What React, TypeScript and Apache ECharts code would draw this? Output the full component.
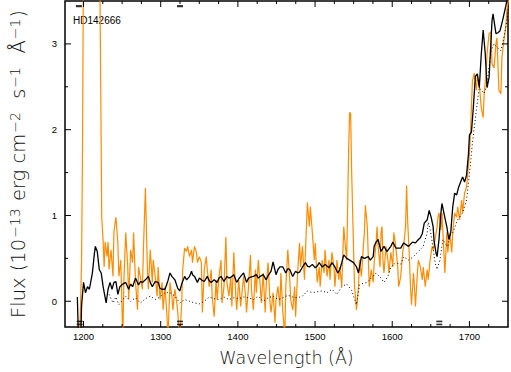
import React, { useEffect, useRef } from 'react';
import * as echarts from 'echarts';

// Observed (orange) spectrum: [wavelength Å, flux 1e-13]
const orangeSpectrum: [number, number][] = [
  [1194.9, -0.5], [1197.5, 0.48], [1198.7, 1.8], [1200.5, 5], [1205, 9], [1210, 12], [1215, 14], [1219, 9], [1221.0, 4],
  [1223.6, 0.98], [1225.4, 0.7], [1226.7, 0.4], [1228.0, 0.69], [1230.5, 0.52], [1231.8, 0.69], [1233.1, 0.37], [1235.6, 0.6],
  [1238.2, 0.29], [1239.4, 0.81], [1242.0, 0.98], [1244.5, 0.68], [1245.8, 0.29], [1248.3, 0.48], [1250.9, -0.45], [1252.2, 0.22],
  [1254.7, 0.8], [1257.3, 0.4], [1258.5, 0.02], [1261.1, 0.6], [1263.6, 0.45], [1264.9, 0.8], [1267.4, 0.22], [1270.0, -0.1],
  [1271.3, 0.4], [1276.3, 0.14], [1277.6, 0.6], [1280.2, 1.32], [1282.7, 0.4], [1284.0, 0.14], [1286.5, 0.6], [1289.1, 0.22],
  [1290.3, 0.48], [1292.9, 0.29], [1295.4, 0.06], [1296.7, 0.4], [1299.2, 0.02], [1301.8, 0.22], [1303.1, -0.1], [1305.6, 0.17],
  [1308.2, -0.18], [1309.4, -0.45], [1312.0, 0.22], [1314.5, 0.06], [1315.8, -0.1], [1318.4, 0.14], [1320.9, -0.02], [1322.1, -0.13],
  [1324.7, -0.45], [1327.2, -0.02], [1328.5, 0.37], [1331.0, 0.62], [1333.6, 0.58], [1334.9, 0.64], [1337.4, 0.52], [1340.0, 0.6],
  [1341.2, 0.45], [1343.8, 0.64], [1346.3, 0.57], [1347.6, 0.45], [1350.1, 0.52], [1352.7, 0.45], [1354.0, -0.13], [1356.5, 0.37],
  [1359.1, 0.52], [1360.3, 0.37], [1362.9, 0.17], [1365.4, 0.37], [1366.7, 0.06], [1369.3, -0.18], [1371.8, 0.25], [1373.1, 0.02],
  [1375.6, 0.29], [1378.2, 0.48], [1379.4, -0.02], [1382.0, 0.17], [1384.5, 0.75], [1385.8, 0.22], [1388.4, 0.06], [1390.9, 0.29],
  [1392.2, -0.06], [1394.7, 0.57], [1397.3, 0.06], [1398.5, -0.1], [1401.1, 0.25], [1403.6, -0.06], [1404.9, 0.06], [1407.4, 0.29],
  [1410.0, 0.06], [1411.2, -0.13], [1413.8, 0.17], [1416.3, 0.54], [1417.6, 0.14], [1420.1, -0.1], [1422.7, 0.37], [1423.9, 0.1],
  [1426.5, 0.48], [1429.0, 0.17], [1430.3, -0.02], [1432.8, 0.33], [1435.4, -0.13], [1436.6, 0.17], [1439.2, 0.45], [1441.7, -0.02],
  [1443.0, -0.13], [1445.6, 0.1], [1448.1, -0.25], [1449.4, 0.02], [1451.9, 0.17], [1454.5, -0.06], [1455.7, 0.33], [1458.3, -0.13],
  [1460.8, -0.4], [1462.1, 0.17], [1464.7, 0.6], [1467.2, 0.25], [1468.5, 0.02], [1471.0, -0.1], [1473.6, 0.17], [1474.8, -0.18],
  [1477.4, 0.33], [1479.9, 0.68], [1481.2, 0.4], [1483.7, 0.64], [1486.3, 0.25], [1487.5, 0.57], [1490.1, 1.15], [1492.6, 0.87],
  [1493.9, 1.1], [1496.5, 0.8], [1499.0, 0.48], [1500.3, 0.68], [1502.8, 0.22], [1505.4, 0.4], [1506.6, 0.17], [1509.2, 0.48],
  [1511.7, 0.33], [1513.0, 0.6], [1515.5, 0.29], [1518.1, 0.48], [1519.4, 0.25], [1521.9, 0.57], [1524.5, 0.4], [1525.7, 0.17],
  [1528.3, 0.48], [1530.8, 0.25], [1532.1, 0.4], [1534.6, 0.17], [1537.2, 0.87], [1538.5, 0.72], [1541.0, 0.48], [1543.5, 1.76],
  [1544.8, 2.2], [1546.1, 2.19], [1547.3, 1.56], [1549.9, 0.6], [1551.2, 0.17], [1553.7, -0.1], [1556.3, 0.17], [1557.5, 0.48],
  [1560.1, 0.29], [1562.6, 0.64], [1563.9, 0.8], [1565.2, 1.12], [1567.7, 0.87], [1569.0, 0.52], [1570.2, 0.17], [1572.8, 0.37],
  [1575.3, 0.22], [1576.6, 0.45], [1579.1, 0.68], [1580.4, 0.87], [1581.7, 0.64], [1584.2, 0.4], [1585.5, 0.8], [1586.8, 0.87],
  [1588.0, 0.48], [1589.3, 0.33], [1591.9, 0.64], [1594.4, 0.48], [1595.7, 0.33], [1598.2, 0.57], [1600.8, 0.4], [1602.0, 0.8],
  [1604.6, 0.64], [1607.1, 0.4], [1608.4, 0.17], [1611.0, 0.29], [1613.5, 0.57], [1614.8, 0.64], [1617.3, 0.87], [1618.6, 1.35],
  [1619.9, 0.95], [1622.4, 0.48], [1623.7, 0.17], [1625.0, -0.04], [1627.5, 0.33], [1628.8, 0.17], [1630.1, -0.06], [1632.6, 0.33],
  [1633.9, 0.48], [1636.4, 0.4], [1639.0, 0.25], [1640.2, 0.4], [1642.8, 0.17], [1645.3, 0.37], [1646.6, 0.25], [1649.1, 0.48],
  [1651.7, 0.64], [1653.0, 0.6], [1655.5, 0.72], [1658.1, 0.87], [1659.3, 0.98], [1660.6, 1.03], [1661.8, 0.95], [1663.1, 0.83],
  [1664.4, 1.03], [1665.7, 0.8], [1668.2, 0.33], [1670.7, 0.8], [1672.0, 0.57], [1674.6, 0.8], [1677.1, 0.57], [1678.4, 0.8],
  [1680.9, 1.03], [1683.5, 0.98], [1684.8, 1.1], [1687.3, 0.95], [1689.9, 1.18], [1691.2, 1.03], [1693.7, 1.26], [1696.3, 1.33],
  [1697.5, 1.45], [1700.1, 1.73], [1701.4, 1.96], [1702.6, 2.26], [1703.9, 2.57], [1706.4, 2.66], [1709.0, 2.46], [1710.3, 2.61],
  [1712.8, 2.53], [1715.3, 2.26], [1717.8, 2.14], [1719.1, 2.42], [1721.7, 2.66], [1722.9, 2.89], [1725.5, 3.12], [1728.0, 3.14],
  [1729.3, 2.77], [1731.9, 2.72], [1734.4, 3.0], [1735.7, 3.07], [1738.2, 2.46], [1740.8, 2.42], [1742.1, 2.84], [1744.6, 3.04],
  [1747.1, 3.19], [1748.5, 3.39], [1751.0, 3.55],
];

// Solid black spectrum
const blackSpectrum: [number, number][] = [
  [1192.0, 0.05], [1193.6, -0.5], [1196.2, -0.5], [1197.5, -0.05], [1200.0, 0.22], [1202.5, 0.1], [1205.1, 0.17], [1207.6, 0.14],
  [1211.5, 0.33], [1214.0, 0.55], [1215.3, 0.64], [1217.8, 0.58], [1220.4, 0.37], [1222.9, 0.33], [1225.4, 0.17], [1229.3, -0.02],
  [1231.8, 0.14], [1234.4, 0.22], [1236.9, 0.14], [1239.4, 0.22], [1242.0, 0.23], [1244.5, 0.08], [1247.1, 0.17], [1250.9, 0.2],
  [1254.7, 0.22], [1258.5, 0.14], [1261.1, 0.2], [1263.6, 0.17], [1267.4, 0.27], [1271.3, 0.19], [1273.8, 0.23], [1276.3, 0.22],
  [1280.2, 0.25], [1284.0, 0.29], [1286.5, 0.22], [1289.1, 0.17], [1292.9, 0.23], [1296.7, 0.22], [1299.2, 0.15], [1301.8, 0.14],
  [1305.6, 0.14], [1309.4, 0.24], [1312.0, 0.33], [1314.5, 0.29], [1318.4, 0.25], [1322.1, 0.15], [1324.7, 0.12], [1327.2, 0.2],
  [1331.0, 0.29], [1333.6, 0.25], [1337.4, 0.29], [1340.0, 0.35], [1341.2, 0.31], [1343.8, 0.29], [1347.6, 0.22], [1350.1, 0.27],
  [1352.7, 0.25], [1356.5, 0.23], [1360.3, 0.29], [1362.9, 0.24], [1365.4, 0.22], [1369.3, 0.25], [1373.1, 0.22], [1375.6, 0.27],
  [1378.2, 0.29], [1382.0, 0.23], [1385.8, 0.29], [1388.4, 0.27], [1390.9, 0.28], [1394.7, 0.31], [1398.5, 0.22], [1401.1, 0.26],
  [1403.6, 0.29], [1407.4, 0.33], [1411.2, 0.22], [1413.8, 0.27], [1416.3, 0.28], [1420.1, 0.29], [1423.9, 0.31], [1426.5, 0.27],
  [1429.0, 0.29], [1432.8, 0.31], [1436.6, 0.25], [1439.2, 0.3], [1443.0, 0.35], [1445.6, 0.46], [1449.4, 0.31], [1451.9, 0.37],
  [1454.5, 0.4], [1458.3, 0.4], [1462.1, 0.33], [1464.7, 0.38], [1467.2, 0.37], [1471.0, 0.29], [1474.8, 0.35], [1477.4, 0.33],
  [1479.9, 0.34], [1483.7, 0.4], [1487.5, 0.45], [1490.1, 0.41], [1492.6, 0.4], [1496.5, 0.43], [1500.3, 0.39], [1502.8, 0.41],
  [1505.4, 0.45], [1509.2, 0.4], [1513.0, 0.43], [1515.5, 0.41], [1518.1, 0.39], [1521.9, 0.45], [1525.7, 0.4], [1529.6, 0.33],
  [1532.1, 0.37], [1534.6, 0.45], [1537.2, 0.54], [1541.0, 0.5], [1544.8, 0.48], [1549.9, 0.45], [1553.7, 0.4], [1556.3, 0.33],
  [1560.1, 0.52], [1563.9, 0.5], [1569.0, 0.52], [1571.5, 0.48], [1575.3, 0.52], [1576.6, 0.64], [1579.1, 0.69], [1581.7, 0.72],
  [1585.5, 0.58], [1589.3, 0.64], [1593.1, 0.58], [1598.2, 0.64], [1600.8, 0.69], [1604.6, 0.62], [1611.0, 0.62], [1614.8, 0.68],
  [1621.1, 0.64], [1626.2, 0.69], [1630.1, 0.68], [1633.9, 0.72], [1636.4, 0.74], [1639.0, 0.79], [1641.5, 0.91], [1645.3, 0.95],
  [1647.9, 1.06], [1650.4, 0.98], [1653.0, 0.87], [1654.2, 0.7], [1656.8, 0.56], [1658.1, 0.52], [1660.6, 0.72], [1663.1, 1.03],
  [1664.4, 1.14], [1666.9, 1.03], [1670.7, 0.87], [1673.3, 0.72], [1675.8, 0.8], [1678.4, 1.1], [1680.9, 1.26], [1683.5, 1.24],
  [1686.0, 1.33], [1688.6, 1.39], [1691.2, 1.45], [1693.7, 1.39], [1696.3, 1.47], [1698.8, 1.72], [1700.1, 1.94], [1702.6, 1.97],
  [1705.1, 2.26], [1707.7, 2.62], [1710.3, 2.65], [1712.8, 2.49], [1715.3, 2.87], [1717.8, 3.16], [1720.4, 2.9], [1722.9, 2.49],
  [1725.5, 2.61], [1729.3, 3.27], [1730.6, 3.35], [1734.4, 3.12], [1736.9, 3.13], [1739.5, 3.15], [1742.1, 3.24], [1745.9, 3.39],
  [1748.5, 3.5], [1751.0, 3.62],
];

// Dotted black spectrum
const dottedSpectrum: [number, number][] = [
  [1233.1, 0.08], [1238.2, -0.02], [1242.0, 0.05], [1245.8, -0.04], [1250.9, 0.02], [1254.7, 0.06], [1261.1, 0.0], [1267.4, 0.04],
  [1273.8, -0.02], [1280.2, 0.03], [1286.5, 0.06], [1292.9, 0.02], [1299.2, 0.05], [1305.6, 0.1], [1312.0, 0.1], [1318.4, 0.06],
  [1324.7, -0.02], [1331.0, 0.02], [1337.4, 0.0], [1343.8, -0.02], [1350.1, -0.03], [1356.5, 0.0], [1362.9, 0.05], [1369.3, 0.03],
  [1375.6, 0.02], [1382.0, 0.05], [1388.4, 0.02], [1394.7, 0.04], [1401.1, 0.03], [1407.4, 0.05], [1413.8, 0.04], [1420.1, 0.02],
  [1426.5, 0.06], [1432.8, 0.0], [1439.2, 0.04], [1445.6, 0.06], [1451.9, 0.02], [1458.3, 0.04], [1464.7, 0.07], [1471.0, 0.05],
  [1477.4, 0.04], [1483.7, 0.06], [1490.1, 0.12], [1496.5, 0.1], [1502.8, 0.11], [1509.2, 0.12], [1515.5, 0.1], [1521.9, 0.14],
  [1528.3, 0.08], [1534.6, 0.17], [1541.0, 0.2], [1547.3, 0.13], [1553.7, -0.04], [1557.5, 0.19], [1562.6, 0.21], [1567.7, 0.22],
  [1572.8, 0.27], [1579.1, 0.33], [1585.5, 0.27], [1589.3, 0.22], [1594.4, 0.29], [1598.2, 0.4], [1604.6, 0.45], [1611.0, 0.43],
  [1614.8, 0.52], [1621.1, 0.48], [1627.5, 0.52], [1633.9, 0.58], [1640.2, 0.64], [1645.3, 0.8], [1646.6, 0.92], [1649.1, 0.84],
  [1653.0, 0.62], [1655.5, 0.45], [1658.1, 0.37], [1661.8, 0.48], [1665.7, 0.72], [1669.5, 0.66], [1672.0, 0.64], [1674.6, 0.76],
  [1678.4, 0.8], [1684.8, 0.95], [1691.2, 1.03], [1696.3, 1.18], [1700.1, 1.49], [1703.9, 1.84], [1709.0, 2.23], [1712.8, 2.49],
  [1719.1, 2.42], [1722.9, 2.54], [1728.0, 2.92], [1731.9, 3.0], [1735.7, 2.96], [1740.8, 2.92], [1744.6, 3.07], [1748.5, 3.27],
  [1751.0, 3.45],
];

const xMajorTicks = [1200, 1300, 1400, 1500, 1600, 1700];
const xMinorTicks = [1225, 1250, 1275, 1325, 1350, 1375, 1425, 1450, 1475, 1525, 1550, 1575, 1625, 1650, 1675, 1725];
const yMajorTicks = [0, 1, 2, 3];
const yMinorTicks = [0.5, 1.5, 2.5];
const topMarks = [1194, 1325];
const bottomMarks = [1195, 1325, 1661];
const starName = 'HD142666';

export default function App() {
  const ref = useRef<HTMLDivElement>(null);

  useEffect(() => {
    document.body.style.margin = '0';
    const chart = echarts.init(ref.current as HTMLDivElement, null, { renderer: 'svg' });

    const xTickData = [...xMajorTicks.map((v) => [v, 0, 1]), ...xMinorTicks.map((v) => [v, 0, 0])];
    const yTickData = [...yMajorTicks.map((v) => [1300, v, 1]), ...yMinorTicks.map((v) => [1300, v, 0])];

    const tickStyle = { stroke: '#000', lineWidth: 1 };
    const titleColor = '#111';

    const option: any = {
      animation: false,
      grid: {
        left: 58, right: 1, top: 1, bottom: 44,
        show: true, borderColor: '#000', borderWidth: 1.5, backgroundColor: 'transparent',
      },
      xAxis: {
        type: 'value', min: 1176, max: 1750,
        axisLine: { show: false }, axisTick: { show: false }, splitLine: { show: false },
        axisLabel: {
          formatter: (v: number) => (Math.abs(v % 100) < 1e-6 ? String(v) : ''),
          color: '#000', fontSize: 9.5, fontFamily: 'Liberation Sans', margin: 4,
        },
        name: 'Wavelength (\u00C5)', nameLocation: 'middle', nameGap: 22,
        nameTextStyle: { fontSize: 17.5, fontFamily: 'DejaVu Sans', fontWeight: 200, color: titleColor },
      },
      yAxis: {
        type: 'value', min: -0.3, max: 3.5,
        axisLine: { show: false }, axisTick: { show: false }, splitLine: { show: false },
        axisLabel: {
          formatter: (v: number) => (Math.abs(v - Math.round(v)) < 1e-6 ? String(Math.round(v)) : ''),
          color: '#000', fontSize: 9.5, fontFamily: 'Liberation Sans', margin: 8,
        },
        name: '{m|Flux (10}{s|\u221213}{m| erg cm}{s|\u22122}{m|  s}{s|\u22121}{m|  \u00C5}{s|\u22121}{m|)}',
        nameLocation: 'middle', nameRotate: 90, nameGap: 37,
        nameTextStyle: {
          rich: {
            m: { fontSize: 19.5, fontFamily: 'DejaVu Sans', fontWeight: 200, color: titleColor, lineHeight: 20, verticalAlign: 'bottom' },
            s: { fontSize: 14, fontFamily: 'DejaVu Sans', fontWeight: 200, color: titleColor, lineHeight: 14, verticalAlign: 'top', padding: [0, 1, 11, 1] },
          },
        },
      },
      graphic: [
        { type: 'text', left: 73, top: 15, style: { text: starName, fontSize: 10, fontFamily: 'Liberation Sans', fill: '#000' } },
      ],
      series: [
        {
          type: 'line', data: orangeSpectrum, symbol: 'none', clip: true, z: 2,
          lineStyle: { color: '#ff8c00', width: 1.2 },
        },
        {
          type: 'line', data: dottedSpectrum, symbol: 'none', clip: true, z: 3,
          lineStyle: { color: '#000', width: 1, type: [1, 2.5] },
        },
        {
          type: 'line', data: blackSpectrum, symbol: 'none', clip: true, z: 4,
          lineStyle: { color: '#000', width: 1.3 },
        },
        {
          type: 'scatter', symbol: 'rect', symbolSize: [6, 1.6], z: 6, silent: true,
          data: bottomMarks.flatMap((v) => [[v, -0.235], [v, -0.27]]),
          itemStyle: { color: '#000' },
        },
        {
          type: 'scatter', symbol: 'rect', symbolSize: [6, 2.2], z: 6, silent: true,
          data: topMarks.map((v) => [v, 3.44]),
          itemStyle: { color: '#000' },
        },
        {
          type: 'custom', data: xTickData, z: 7, silent: true,
          renderItem: (params: any, api: any) => {
            const cs = params.coordSys;
            const p = api.coord([api.value(0), api.value(1)]);
            const len = api.value(2) ? 6 : 3;
            return {
              type: 'group',
              children: [
                { type: 'line', shape: { x1: p[0], y1: cs.y + cs.height, x2: p[0], y2: cs.y + cs.height - len }, style: tickStyle },
                { type: 'line', shape: { x1: p[0], y1: cs.y, x2: p[0], y2: cs.y + len }, style: tickStyle },
              ],
            };
          },
        },
        {
          type: 'custom', data: yTickData, z: 7, silent: true,
          renderItem: (params: any, api: any) => {
            const cs = params.coordSys;
            const p = api.coord([api.value(0), api.value(1)]);
            const len = api.value(2) ? 6 : 3;
            return {
              type: 'group',
              children: [
                { type: 'line', shape: { x1: cs.x, y1: p[1], x2: cs.x + len, y2: p[1] }, style: tickStyle },
                { type: 'line', shape: { x1: cs.x + cs.width, y1: p[1], x2: cs.x + cs.width - len, y2: p[1] }, style: tickStyle },
              ],
            };
          },
        },
      ],
    };

    chart.setOption(option);
    return () => chart.dispose();
  }, []);

  return <div ref={ref} style={{ width: 511, height: 372 }} />;
}
